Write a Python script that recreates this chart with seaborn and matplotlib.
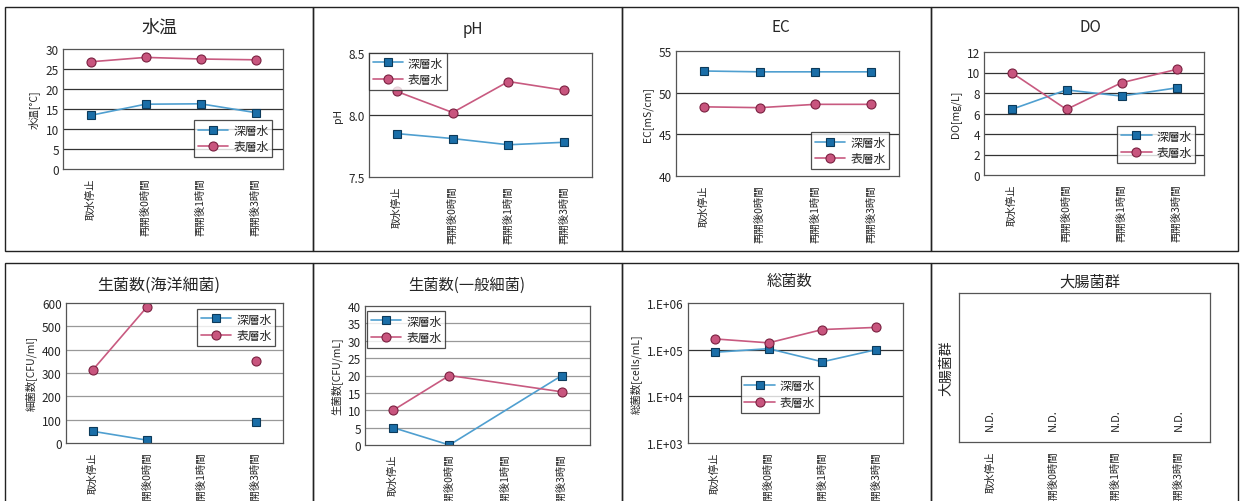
import numpy as np
import pandas as pd
import matplotlib
matplotlib.use("Agg")
import matplotlib.pyplot as plt
import seaborn as sns
from matplotlib.lines import Line2D
from matplotlib.patches import Rectangle
from matplotlib.ticker import FixedLocator, FuncFormatter, NullLocator

sns.set_style("white")
plt.rcParams['font.family'] = ['Noto Sans CJK JP', 'DejaVu Sans']

# ---------------- data ----------------
categories = ['取水停止', '再開後0時間', '再開後1時間', '再開後3時間']
series_names = ['深層水', '表層水']

temp_deep = [13.4, 16.2, 16.3, 14.1]
temp_surf = [26.8, 27.9, 27.5, 27.3]

ph_deep = [7.85, 7.81, 7.76, 7.78]
ph_surf = [8.19, 8.02, 8.27, 8.20]

ec_deep = [52.6, 52.5, 52.5, 52.5]
ec_surf = [48.3, 48.2, 48.6, 48.6]

do_deep = [6.4, 8.3, 7.7, 8.5]
do_surf = [10.0, 6.4, 9.0, 10.3]

marine_deep = [50, 12, np.nan, 90]
marine_surf = [315, 585, np.nan, 350]

general_deep = [5, 0, np.nan, 20]
general_surf = [10, 20, np.nan, 15.3]

total_deep = [8.8e4, 1.05e5, 5.5e4, 1.0e5]
total_surf = [1.7e5, 1.4e5, 2.7e5, 3.0e5]

coliform_labels = ['N.D.', 'N.D.', 'N.D.', 'N.D.']

# ---------------- style ----------------
W, H = 1240, 502
fig = plt.figure(figsize=(W / 100, H / 100), dpi=100)

def px_box(l, t, r, b):
    return [l / W, 1 - b / H, (r - l) / W, (b - t) / H]

deep_style = dict(color='#4f9fd0', marker='s', markersize=6,
                  markerfacecolor='#1a6ea8', markeredgecolor='#0c3a5a', markeredgewidth=0.8)
surf_style = dict(color='#c85a80', marker='o', markersize=6.5,
                  markerfacecolor='#c8557e', markeredgecolor='#7a2040', markeredgewidth=0.8)

# panel borders
cols = [5, 313, 622, 931, 1238]
for i in range(4):
    for (t, b) in [(8, 252), (264, 520)]:
        fig.add_artist(Rectangle((cols[i] / W, 1 - b / H), (cols[i + 1] - cols[i]) / W, (b - t) / H,
                                 transform=fig.transFigure, fill=False, edgecolor='#222', lw=1.0))


def draw_series(ax, values, style, connect_gaps):
    vals = np.array(values, dtype=float)
    seg = np.cumsum(np.isnan(vals)) if not connect_gaps else np.zeros(len(vals), dtype=int)
    df = pd.DataFrame({'x': np.arange(len(vals)), 'v': vals, 'seg': seg}).dropna()
    sns.lineplot(data=df, x='x', y='v', units='seg', estimator=None, ax=ax,
                 legend=False, lw=1.2, **style)


def setup_axes(ax, ylim, yticks, ylabel, grid_color, log=False):
    ax.set_xlim(-0.5, len(categories) - 0.5)
    ax.set_xticks(range(len(categories)))
    ax.set_xticklabels(categories, rotation=90, va='top', fontsize=7.5)
    ax.xaxis.set_minor_locator(FixedLocator([0.5, 1.5, 2.5]))
    ax.tick_params(axis='x', which='major', length=0, pad=6)
    ax.tick_params(axis='x', which='minor', length=3, direction='out', color='#333')
    if log:
        ax.set_yscale('log')
        ax.yaxis.set_minor_locator(NullLocator())
        ax.yaxis.set_major_formatter(FuncFormatter(lambda v, p: f'1.E+{int(round(np.log10(v))):02d}'))
    ax.set_ylim(*ylim)
    ax.set_yticks(yticks)
    ax.tick_params(axis='y', length=0, labelsize=8.5, pad=3)
    ax.set_ylabel(ylabel, fontsize=7.5)
    ax.set_xlabel('')
    for v in yticks[1:-1]:
        ax.axhline(v, color=grid_color, lw=0.9, zorder=0)
    for s in ax.spines.values():
        s.set_color('#555')
        s.set_linewidth(0.9)


def add_legend(ax, loc, anchor):
    handles = [Line2D([], [], lw=1.2, **deep_style), Line2D([], [], lw=1.2, **surf_style)]
    leg = ax.legend(handles, series_names, loc=loc, bbox_to_anchor=anchor, borderaxespad=0,
                    fontsize=8.5, frameon=True, fancybox=False, handlelength=2.6,
                    borderpad=0.3, labelspacing=0.3, handletextpad=0.4)
    leg.get_frame().set_edgecolor('#222')
    leg.get_frame().set_linewidth(0.9)


panels = [
    dict(title='水温', box=(63, 50, 283, 170), deep=temp_deep, surf=temp_surf, ylim=(0, 30),
         yticks=[0, 5, 10, 15, 20, 25, 30], ylabel='水温[°C]', loc='lower right', anchor=(0.95, 0.1),
         grid='#333', tx=159, ty=28, tsize=13),
    dict(title='pH', box=(369, 54, 592, 178), deep=ph_deep, surf=ph_surf, ylim=(7.5, 8.5),
         yticks=[7.5, 8, 8.5], ylabel='pH', loc='upper left', anchor=(0.0, 1.0),
         grid='#333', tx=473, ty=30, tsize=11),
    dict(title='EC', box=(676, 52, 899, 177), deep=ec_deep, surf=ec_surf, ylim=(40, 55),
         yticks=[40, 45, 50, 55], ylabel='EC[mS/cm]', loc='lower right', anchor=(0.955, 0.056),
         grid='#333', tx=781, ty=28, tsize=11),
    dict(title='DO', box=(984, 53, 1204, 176), deep=do_deep, surf=do_surf, ylim=(0, 12),
         yticks=[0, 2, 4, 6, 8, 10, 12], ylabel='DO[mg/L]', loc='lower right', anchor=(0.96, 0.1),
         grid='#333', tx=1090, ty=28, tsize=11),
    dict(title='生菌数(海洋細菌)', box=(66, 304, 283, 444), deep=marine_deep, surf=marine_surf,
         ylim=(0, 600), yticks=[0, 100, 200, 300, 400, 500, 600], ylabel='細菌数[CFU/ml]',
         loc='upper right', anchor=(0.963, 0.957), grid='#999', tx=159, ty=285, tsize=11.5,
         connect=False),
    dict(title='生菌数(一般細菌)', box=(365, 307, 590, 446), deep=general_deep, surf=general_surf,
         ylim=(0, 40), yticks=[0, 5, 10, 15, 20, 25, 30, 35, 40], ylabel='生菌数[CFU/mL]',
         loc='upper left', anchor=(0.01, 0.964), grid='#999', tx=467, ty=285, tsize=11,
         connect=True),
    dict(title='総菌数', box=(688, 304, 903, 444), deep=total_deep, surf=total_surf,
         ylim=(1e3, 1e6), yticks=[1e3, 1e4, 1e5, 1e6], ylabel='総菌数[cells/mL]',
         loc='upper left', anchor=(0.246, 0.479), grid='#333', tx=790, ty=282, tsize=11,
         log=True),
]

for p in panels:
    ax = fig.add_axes(px_box(*p['box']))
    log = p.get('log', False)
    if log:
        ax.set_yscale('log')
    draw_series(ax, p['deep'], deep_style, p.get('connect', True))
    draw_series(ax, p['surf'], surf_style, p.get('connect', True))
    setup_axes(ax, p['ylim'], p['yticks'], p['ylabel'], p['grid'], log=log)
    add_legend(ax, p['loc'], p['anchor'])
    fig.text(p['tx'] / W, 1 - p['ty'] / H, p['title'], ha='center', va='center', fontsize=p['tsize'])

# 大腸菌群 (not detected)
ax = fig.add_axes(px_box(959, 294, 1210, 443))
ax.set_xlim(-0.5, len(categories) - 0.5)
ax.set_ylim(0, 1)
ax.set_xticks(range(len(categories)))
ax.set_xticklabels(categories, rotation=90, va='top', fontsize=7.5)
ax.xaxis.set_minor_locator(FixedLocator([0.5, 1.5, 2.5]))
ax.tick_params(axis='x', which='major', length=0, pad=6)
ax.tick_params(axis='x', which='minor', length=3, direction='out', color='#333')
ax.set_yticks([])
ax.set_ylabel('大腸菌群', fontsize=10)
for s in ax.spines.values():
    s.set_color('#555')
    s.set_linewidth(0.9)
for i, lab in enumerate(coliform_labels):
    ax.text(i, 0.08, lab, rotation=90, ha='center', va='bottom', fontsize=8)
fig.text(1090 / W, 1 - 282 / H, '大腸菌群', ha='center', va='center', fontsize=11)

fig.savefig('out.png', dpi=100, facecolor='white')
